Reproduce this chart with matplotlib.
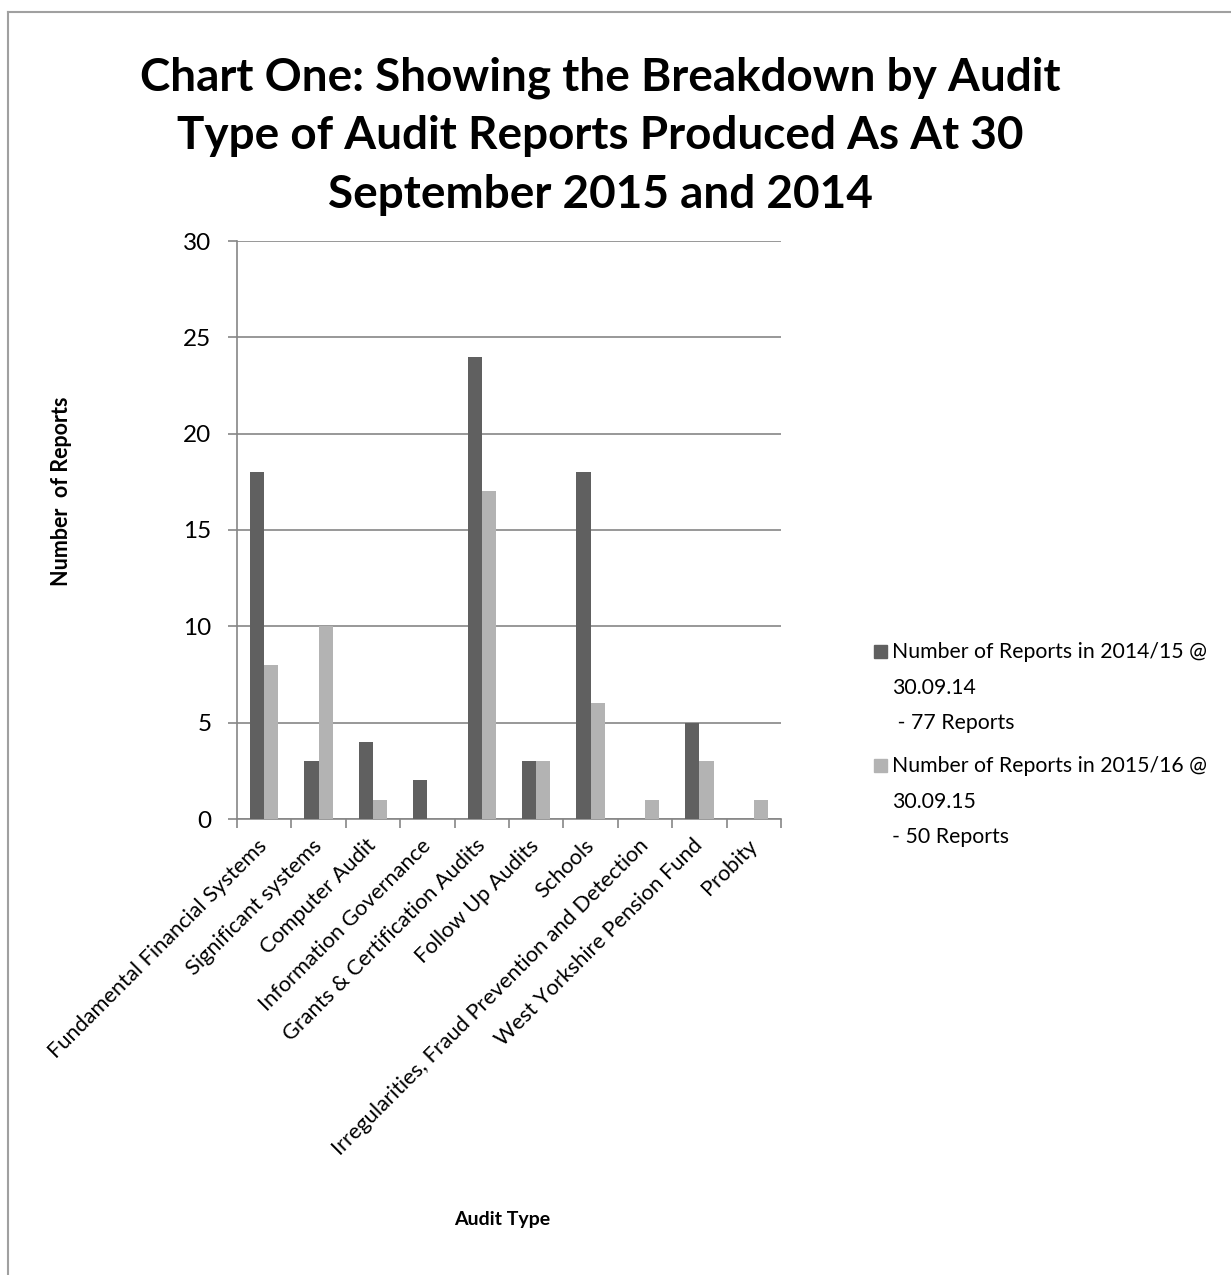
import matplotlib
matplotlib.use("Agg")
import matplotlib.pyplot as plt
from matplotlib.patches import Rectangle
from matplotlib.lines import Line2D
import numpy as np

categories = [
    "Fundamental Financial Systems",
    "Significant systems",
    "Computer Audit",
    "Information Governance",
    "Grants & Certification Audits",
    "Follow Up Audits",
    "Schools",
    "Irregularities, Fraud Prevention and Detection",
    "West Yorkshire Pension Fund",
    "Probity",
]
reports_2014 = [18, 3, 4, 2, 24, 3, 18, 0, 5, 0]
reports_2015 = [8, 10, 1, 0, 17, 3, 6, 1, 3, 1]
series_names = [
    "Number of Reports in 2014/15 @\n30.09.14\n - 77 Reports",
    "Number of Reports in 2015/16 @\n30.09.15\n- 50 Reports",
]
y_ticks = [0, 5, 10, 15, 20, 25, 30]
title = "Chart One: Showing the Breakdown by Audit\nType of Audit Reports Produced As At 30\nSeptember 2015 and 2014"

W, H = 1231, 1275
plt.rcParams['font.family'] = ['Lato', 'DejaVu Sans']
fig = plt.figure(figsize=(W / 100, H / 100), dpi=100)

dark = "#606060"
light = "#b3b3b3"
grid = "#868686"

def fx(px):
    return px / W

def fy(py):
    return 1 - py / H

ax = fig.add_axes([fx(237), fy(819), fx(781) - fx(237), fy(241) - fy(819)])
x = np.arange(len(categories))
bw = 0.26
ax.bar(x - bw / 2, reports_2014, bw, color=dark, zorder=3)
ax.bar(x + bw / 2, reports_2015, bw, color=light, zorder=3)
ax.set_xlim(-0.5, len(categories) - 0.5)
ax.set_ylim(0, 30)
ax.set_yticks(y_ticks)
ax.yaxis.grid(True, color=grid, linewidth=1.2, zorder=0)
ax.set_axisbelow(True)
for s in ["top", "right"]:
    ax.spines[s].set_visible(False)
for s in ["left", "bottom"]:
    ax.spines[s].set_color(grid)
    ax.spines[s].set_linewidth(1.2)
ax.tick_params(axis='y', direction='out', length=6.5, width=1.2, color=grid, pad=12, labelsize=17.5)
ax.set_xticks(x)
ax.set_xticklabels(categories, rotation=45, ha='right', va='center', rotation_mode='anchor', fontsize=15.7)
ax.tick_params(axis='x', which='major', length=0, pad=17)
ax.set_xticks(np.arange(-0.5, len(categories)), minor=True)
ax.tick_params(axis='x', which='minor', direction='out', length=6.5, width=1.2, color=grid)

fig.text(fx(600), fy(136), title, ha='center', va='center', fontsize=33, fontweight='bold', linespacing=1.48)
fig.text(fx(62), fy(491), "Number  of Reports", rotation=90, ha='center', va='center', fontsize=15.5, fontweight='bold')
fig.text(fx(502), fy(1220), "Audit Type", ha='center', va='center', fontsize=14, fontweight='bold')

# legend
for i, (name, col) in enumerate(zip(series_names, [dark, light])):
    ytop = 651 + i * 114
    fig.patches.append(Rectangle((fx(874), fy(ytop + 7)), fx(13), fy(0) - fy(13), transform=fig.transFigure, color=col))
    fig.text(fx(892), fy(ytop - 9), name, ha='left', va='top', fontsize=15.3, linespacing=1.97)

# outer border
fig.add_artist(Line2D([fx(8), 1], [fy(12), fy(12)], color="#a0a0a0", linewidth=1.5, transform=fig.transFigure))
fig.add_artist(Line2D([fx(8), fx(8)], [0, fy(12)], color="#a0a0a0", linewidth=1.5, transform=fig.transFigure))

fig.savefig("out.png", dpi=100)
